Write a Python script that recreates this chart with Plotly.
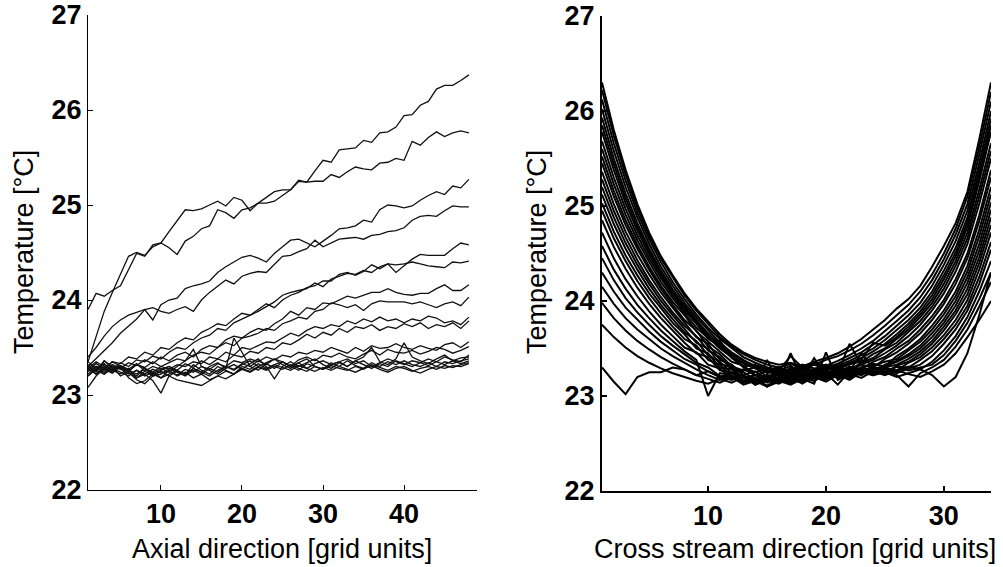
import plotly.graph_objects as go

# ---------------- data ----------------
axial_x = list(range(1, 49))
cross_x = list(range(1, 35))
y_ticks = [22, 23, 24, 25, 26, 27]
axial_ticks = [10, 20, 30, 40]
cross_ticks = [10, 20, 30]

axial_lines = [
    [23.35, 23.62, 23.88, 24.08, 24.28, 24.46, 24.5, 24.47, 24.56, 24.6, 24.72, 24.84, 24.95, 24.94, 24.96, 25.0, 25.04, 24.99, 25.08, 25.05, 24.94, 25.02, 25.02, 25.04, 25.1, 25.16, 25.26, 25.24, 25.36, 25.47, 25.45, 25.58, 25.59, 25.6, 25.68, 25.66, 25.76, 25.77, 25.82, 25.94, 25.95, 26.05, 26.09, 26.22, 26.26, 26.26, 26.31, 26.37],
    [23.9, 24.07, 24.04, 24.1, 24.15, 24.32, 24.49, 24.46, 24.58, 24.6, 24.55, 24.48, 24.62, 24.67, 24.75, 24.78, 24.95, 24.92, 24.86, 24.95, 24.97, 25.02, 25.08, 25.14, 25.16, 25.16, 25.25, 25.24, 25.25, 25.25, 25.32, 25.29, 25.35, 25.4, 25.38, 25.37, 25.44, 25.45, 25.49, 25.47, 25.67, 25.63, 25.71, 25.77, 25.72, 25.76, 25.78, 25.76],
    [23.4, 23.5, 23.62, 23.72, 23.79, 23.84, 23.87, 23.9, 23.79, 23.95, 24.0, 24.02, 24.12, 24.15, 24.17, 24.2, 24.29, 24.35, 24.4, 24.45, 24.47, 24.44, 24.4, 24.49, 24.56, 24.63, 24.64, 24.6, 24.56, 24.62, 24.68, 24.75, 24.76, 24.78, 24.84, 24.82, 24.95, 25.0, 24.99, 24.97, 24.99, 25.05, 25.1, 25.14, 25.11, 25.2, 25.18, 25.27],
    [23.3, 23.38, 23.47, 23.55, 23.65, 23.72, 23.8, 23.9, 23.92, 23.88, 23.86, 23.9, 23.93, 23.88, 24.0, 24.08, 24.15, 24.21, 24.17, 24.25, 24.28, 24.3, 24.29, 24.37, 24.46, 24.47, 24.51, 24.54, 24.63, 24.56, 24.6, 24.64, 24.65, 24.66, 24.64, 24.68, 24.69, 24.72, 24.73, 24.76, 24.84, 24.88, 24.89, 24.88, 24.94, 24.99, 24.98, 24.98],
    [23.25, 23.3, 23.28, 23.35, 23.33, 23.4, 23.38, 23.45, 23.42, 23.5, 23.48, 23.55, 23.6, 23.58, 23.66, 23.7, 23.75, 23.73, 23.8, 23.86, 23.84, 23.9, 23.96, 23.92, 24.0, 24.05, 24.08, 24.13, 24.15, 24.2, 24.2, 24.27, 24.29, 24.26, 24.3, 24.37, 24.33, 24.38, 24.29, 24.36, 24.43, 24.48, 24.47, 24.47, 24.47, 24.54, 24.6, 24.58],
    [23.28, 23.22, 23.3, 23.26, 23.34, 23.3, 23.37, 23.35, 23.41, 23.38, 23.45, 23.5, 23.48, 23.55, 23.6, 23.63, 23.7, 23.68, 23.76, 23.8, 23.84, 23.88, 23.93, 23.98, 24.05, 24.08, 24.1, 24.12, 24.18, 24.14, 24.22, 24.25, 24.28, 24.27, 24.31, 24.29, 24.35, 24.38, 24.37, 24.38, 24.4, 24.38, 24.36, 24.35, 24.34, 24.4, 24.39, 24.41],
    [23.32, 23.25, 23.36, 23.3, 23.28, 23.34, 23.31, 23.37, 23.33, 23.4, 23.36, 23.42, 23.45, 23.4, 23.48, 23.52, 23.5, 23.58, 23.62, 23.6, 23.66, 23.7, 23.68, 23.75, 23.8, 23.88, 23.84, 23.92, 23.9, 23.97, 23.96, 24.0, 24.04, 24.02, 24.05, 24.08, 24.08, 24.12, 24.08, 24.06, 24.05, 24.07, 24.07, 24.12, 24.16, 24.1, 24.1, 24.16],
    [23.2, 23.28, 23.24, 23.3, 23.27, 23.25, 23.32, 23.29, 23.35, 23.3, 23.34, 23.38, 23.36, 23.42, 23.45, 23.43, 23.5, 23.55, 23.52, 23.6, 23.62, 23.65, 23.7, 23.68, 23.75, 23.78, 23.82, 23.8, 23.88, 23.9, 23.97, 23.95, 23.92, 23.95, 23.89, 23.96, 23.99, 23.98, 23.98, 23.98, 23.96, 23.98, 23.95, 23.92, 23.96, 23.98, 23.94, 24.03],
    [23.3, 23.22, 23.27, 23.23, 23.3, 23.26, 23.2, 23.28, 23.24, 23.3, 23.27, 23.32, 23.3, 23.35, 23.33, 23.4, 23.38, 23.45, 23.42, 23.5, 23.48, 23.52, 23.56, 23.55, 23.6, 23.65, 23.62, 23.68, 23.72, 23.7, 23.74, 23.72, 23.78, 23.75, 23.8, 23.77, 23.82, 23.78, 23.8, 23.76, 23.8, 23.78, 23.83, 23.81, 23.76, 23.78, 23.74, 23.82],
    [23.35, 23.28, 23.33, 23.25, 23.31, 23.27, 23.33, 23.25, 23.3, 23.27, 23.3, 23.26, 23.33, 23.29, 23.36, 23.32, 23.38, 23.35, 23.42, 23.4, 23.46, 23.44, 23.5, 23.48, 23.55, 23.53, 23.58, 23.64, 23.6, 23.66, 23.63, 23.7, 23.66, 23.72, 23.7, 23.74, 23.68, 23.72, 23.7, 23.75, 23.72, 23.76, 23.7, 23.74, 23.72, 23.76, 23.7, 23.78],
    [23.25, 23.3, 23.22, 23.28, 23.24, 23.2, 23.26, 23.22, 23.27, 23.23, 23.25, 23.21, 23.27, 23.24, 23.3, 23.27, 23.33, 23.3, 23.36, 23.34, 23.38, 23.35, 23.4, 23.37, 23.42, 23.4, 23.45, 23.43, 23.47, 23.45, 23.5, 23.47, 23.44, 23.5, 23.46, 23.52, 23.49, 23.5, 23.54, 23.5, 23.48, 23.52, 23.49, 23.47, 23.53, 23.55, 23.5, 23.56],
    [23.2, 23.27, 23.32, 23.26, 23.3, 23.24, 23.18, 23.25, 23.2, 23.22, 23.28, 23.24, 23.2, 23.26, 23.22, 23.28, 23.24, 23.3, 23.27, 23.33, 23.3, 23.36, 23.32, 23.38, 23.35, 23.3, 23.37, 23.4, 23.36, 23.42, 23.4, 23.44, 23.4, 23.38, 23.43, 23.47, 23.42, 23.48, 23.45, 23.44, 23.47, 23.43, 23.46, 23.5, 23.48, 23.44, 23.47, 23.51],
    [23.28, 23.35, 23.3, 23.26, 23.22, 23.28, 23.18, 23.22, 23.15, 23.02, 23.2, 23.25, 23.22, 23.32, 23.26, 23.22, 23.3, 23.26, 23.22, 23.3, 23.27, 23.33, 23.28, 23.32, 23.35, 23.3, 23.34, 23.28, 23.33, 23.36, 23.32, 23.35, 23.38, 23.33, 23.36, 23.3, 23.34, 23.38, 23.35, 23.32, 23.36, 23.34, 23.38, 23.35, 23.4, 23.37, 23.35, 23.42],
    [23.22, 23.3, 23.26, 23.32, 23.28, 23.22, 23.26, 23.2, 23.24, 23.18, 23.22, 23.26, 23.21, 23.28, 23.24, 23.3, 23.34, 23.28, 23.6, 23.45, 23.3, 23.26, 23.33, 23.28, 23.35, 23.3, 23.26, 23.33, 23.3, 23.27, 23.34, 23.3, 23.36, 23.31, 23.28, 23.34, 23.3, 23.35, 23.32, 23.36, 23.32, 23.3, 23.34, 23.3, 23.35, 23.33, 23.36, 23.38],
    [23.3, 23.24, 23.36, 23.28, 23.3, 23.25, 23.32, 23.28, 23.22, 23.28, 23.24, 23.3, 23.36, 23.48, 23.3, 23.26, 23.22, 23.28, 23.32, 23.27, 23.33, 23.38, 23.3, 23.17, 23.3, 23.35, 23.3, 23.34, 23.38, 23.32, 23.28, 23.34, 23.3, 23.36, 23.32, 23.28, 23.33, 23.3, 23.36, 23.33, 23.3, 23.34, 23.31, 23.35, 23.32, 23.36, 23.33, 23.36],
    [23.08, 23.2, 23.28, 23.35, 23.3, 23.18, 23.12, 23.15, 23.22, 23.18, 23.26, 23.2, 23.24, 23.18, 23.22, 23.16, 23.2, 23.25, 23.22, 23.27, 23.24, 23.29, 23.26, 23.3, 23.27, 23.32, 23.28, 23.25, 23.3, 23.27, 23.31, 23.28, 23.26, 23.3, 23.27, 23.32, 23.29, 23.26, 23.3, 23.28, 23.25, 23.28, 23.3, 23.27, 23.31, 23.29, 23.32, 23.34],
    [23.3, 23.26, 23.22, 23.3, 23.2, 23.24, 23.16, 23.12, 23.2, 23.25, 23.2, 23.16, 23.14, 23.12, 23.1, 23.15, 23.2, 23.17, 23.22, 23.28, 23.25, 23.3, 23.27, 23.32, 23.29, 23.26, 23.31, 23.28, 23.25, 23.29, 23.26, 23.3, 23.27, 23.24, 23.28, 23.31, 23.27, 23.24, 23.28, 23.3, 23.26, 23.23, 23.27, 23.3, 23.28, 23.31, 23.3, 23.33],
    [23.26, 23.33, 23.28, 23.24, 23.3, 23.26, 23.22, 23.28, 23.2, 23.26, 23.3, 23.25, 23.22, 23.28, 23.24, 23.2, 23.26, 23.3, 23.26, 23.32, 23.36, 23.3, 23.34, 23.38, 23.32, 23.28, 23.34, 23.38, 23.3, 23.27, 23.32, 23.35, 23.3, 23.36, 23.4, 23.5, 23.35, 23.32, 23.38, 23.55, 23.4, 23.36, 23.33, 23.38, 23.42, 23.36, 23.39, 23.4],
]

cross_lines = [
    [26.30, 25.80, 25.38, 25.02, 24.72, 24.47, 24.27, 24.08, 23.92, 23.78, 23.65, 23.54, 23.46, 23.40, 23.36, 23.33, 23.35, 23.31, 23.36, 23.40, 23.45, 23.52, 23.60, 23.70, 23.80, 23.92, 24.02, 24.16, 24.36, 24.58, 24.82, 25.15, 25.70, 26.30],
    [26.22, 25.74, 25.33, 24.98, 24.69, 24.45, 24.25, 24.06, 23.9, 23.76, 23.62, 23.52, 23.44, 23.38, 23.33, 23.30, 23.34, 23.28, 23.33, 23.38, 23.42, 23.48, 23.55, 23.64, 23.74, 23.85, 23.96, 24.1, 24.28, 24.5, 24.76, 25.1, 25.62, 26.2],
    [26.12, 25.66, 25.27, 24.93, 24.65, 24.41, 24.2, 24.02, 23.86, 23.72, 23.6, 23.5, 23.41, 23.35, 23.3, 23.27, 23.42, 23.3, 23.35, 23.32, 23.37, 23.43, 23.5, 23.58, 23.68, 23.79, 23.9, 24.04, 24.22, 24.44, 24.7, 25.02, 25.54, 26.1],
    [26.02, 25.58, 25.2, 24.88, 24.6, 24.36, 24.16, 23.98, 23.83, 23.69, 23.56, 23.46, 23.38, 23.31, 23.28, 23.3, 23.26, 23.31, 23.34, 23.3, 23.34, 23.4, 23.46, 23.54, 23.63, 23.74, 23.85, 23.98, 24.16, 24.38, 24.63, 24.95, 25.45, 26.0],
    [25.93, 25.5, 25.13, 24.82, 24.55, 24.32, 24.12, 23.95, 23.8, 23.66, 23.54, 23.44, 23.37, 23.32, 23.3, 23.25, 23.28, 23.33, 23.29, 23.31, 23.32, 23.37, 23.43, 23.5, 23.59, 23.69, 23.8, 23.93, 24.1, 24.32, 24.56, 24.88, 25.38, 25.92],
    [25.85, 25.44, 25.08, 24.78, 24.52, 24.3, 24.1, 23.93, 23.78, 23.64, 23.52, 23.42, 23.35, 23.3, 23.27, 23.29, 23.24, 23.3, 23.33, 23.28, 23.3, 23.35, 23.4, 23.47, 23.55, 23.65, 23.76, 23.89, 24.06, 24.27, 24.51, 24.83, 25.32, 25.85],
    [25.78, 25.38, 25.03, 24.74, 24.49, 24.27, 24.08, 23.91, 23.76, 23.62, 23.5, 23.41, 23.34, 23.29, 23.26, 23.22, 23.28, 23.31, 23.27, 23.32, 23.29, 23.33, 23.38, 23.56, 23.53, 23.62, 23.73, 23.86, 24.02, 24.23, 24.47, 24.78, 25.26, 25.78],
    [25.68, 25.3, 24.97, 24.69, 24.45, 24.24, 24.06, 23.9, 23.77, 23.6, 23.53, 23.4, 23.31, 23.33, 23.24, 23.27, 23.21, 23.3, 23.26, 23.33, 23.28, 23.34, 23.36, 23.44, 23.5, 23.6, 23.7, 23.83, 23.98, 24.18, 24.42, 24.72, 25.17, 25.66],
    [25.6, 25.23, 24.91, 24.64, 24.41, 24.2, 24.03, 23.87, 23.72, 23.61, 23.58, 23.42, 23.3, 23.25, 23.29, 23.22, 23.3, 23.25, 23.2, 23.29, 23.31, 23.27, 23.35, 23.4, 23.49, 23.56, 23.67, 23.79, 23.94, 24.13, 24.37, 24.66, 25.1, 25.58],
    [25.52, 25.16, 24.85, 24.59, 24.36, 24.16, 23.99, 23.85, 23.68, 23.57, 23.46, 23.36, 23.32, 23.22, 23.26, 23.3, 23.23, 23.19, 23.28, 23.24, 23.12, 23.26, 23.33, 23.38, 23.45, 23.53, 23.63, 23.75, 23.9, 24.08, 24.31, 24.6, 25.02, 25.5],
    [25.45, 25.1, 24.8, 24.55, 24.33, 24.13, 23.96, 23.8, 23.69, 23.52, 23.44, 23.31, 23.27, 23.3, 23.2, 23.26, 23.32, 23.22, 23.27, 23.2, 23.25, 23.31, 23.28, 23.36, 23.41, 23.5, 23.58, 23.7, 23.84, 24.01, 24.23, 24.5, 24.9, 25.38],
    [25.36, 25.02, 24.73, 24.49, 24.28, 24.09, 23.93, 23.78, 23.62, 23.55, 23.38, 23.33, 23.22, 23.26, 23.18, 23.24, 23.2, 23.27, 23.23, 23.3, 23.24, 23.55, 23.33, 23.3, 23.39, 23.46, 23.55, 23.66, 23.8, 23.97, 24.18, 24.45, 24.84, 25.3],
    [25.28, 24.95, 24.67, 24.43, 24.22, 24.04, 23.88, 23.74, 23.63, 23.48, 23.41, 23.28, 23.25, 23.17, 23.22, 23.19, 23.25, 23.2, 23.4, 23.21, 23.27, 23.22, 23.3, 23.34, 23.31, 23.42, 23.5, 23.6, 23.74, 23.9, 24.1, 24.37, 24.75, 25.2],
    [25.2, 24.88, 24.61, 24.38, 24.18, 24.0, 23.85, 23.71, 23.56, 23.5, 23.34, 23.3, 23.19, 23.22, 23.14, 23.2, 23.16, 23.24, 23.19, 23.26, 23.22, 23.29, 23.25, 23.32, 23.36, 23.39, 23.48, 23.57, 23.7, 23.86, 24.05, 24.31, 24.68, 25.12],
    [25.12, 24.81, 24.55, 24.33, 24.13, 23.96, 23.81, 23.67, 23.58, 23.43, 23.36, 23.24, 23.2, 23.12, 23.18, 23.15, 23.45, 23.17, 23.23, 23.18, 23.25, 23.2, 23.27, 23.24, 23.33, 23.37, 23.44, 23.53, 23.66, 23.81, 24.0, 24.25, 24.6, 25.04],
    [25.03, 24.73, 24.48, 24.27, 24.08, 23.92, 23.77, 23.65, 23.5, 23.45, 23.3, 23.28, 23.16, 23.19, 23.1, 23.17, 23.13, 23.21, 23.16, 23.24, 23.19, 23.26, 23.45, 23.29, 23.31, 23.36, 23.42, 23.5, 23.62, 23.77, 23.95, 24.19, 24.53, 24.96],
    [24.95, 24.66, 24.42, 24.21, 24.03, 23.87, 23.73, 23.6, 23.53, 23.38, 23.33, 23.2, 23.22, 23.12, 23.16, 23.13, 23.19, 23.14, 23.2, 23.15, 23.22, 23.17, 23.25, 23.22, 23.3, 23.33, 23.39, 23.47, 23.58, 23.73, 23.9, 24.13, 24.46, 24.88],
    [24.85, 24.57, 24.34, 24.14, 23.97, 23.82, 23.69, 23.56, 23.45, 23.41, 23.27, 23.25, 23.15, 23.18, 23.1, 23.16, 23.12, 23.18, 23.13, 23.46, 23.17, 23.23, 23.19, 23.26, 23.23, 23.32, 23.36, 23.44, 23.55, 23.69, 23.86, 24.07, 24.4, 24.8],
    [24.72, 24.45, 24.23, 24.05, 23.89, 23.75, 23.63, 23.51, 23.46, 23.33, 23.29, 23.18, 23.21, 23.12, 23.38, 23.14, 23.2, 23.15, 23.22, 23.18, 23.24, 23.2, 23.27, 23.23, 23.29, 23.27, 23.35, 23.41, 23.51, 23.64, 23.8, 24.01, 24.33, 24.72],
    [24.58, 24.33, 24.13, 23.96, 23.82, 23.69, 23.58, 23.47, 23.38, 23.0, 23.24, 23.22, 23.14, 23.17, 23.11, 23.18, 23.14, 23.2, 23.16, 23.23, 23.19, 23.25, 23.22, 23.28, 23.25, 23.31, 23.3, 23.38, 23.47, 23.6, 23.75, 23.95, 24.25, 24.62],
    [24.45, 24.22, 24.03, 23.88, 23.75, 23.63, 23.53, 23.44, 23.35, 23.3, 23.21, 23.2, 23.12, 23.16, 23.1, 23.15, 23.19, 23.13, 23.21, 23.17, 23.23, 23.18, 23.26, 23.22, 23.28, 23.24, 23.29, 23.33, 23.42, 23.55, 23.7, 23.9, 24.18, 24.54],
    [24.3, 24.1, 23.93, 23.8, 23.68, 23.57, 23.48, 23.39, 23.33, 23.26, 23.2, 23.17, 23.22, 23.14, 23.19, 23.16, 23.22, 23.17, 23.24, 23.2, 23.26, 23.21, 23.28, 23.24, 23.3, 23.26, 23.31, 23.28, 23.36, 23.48, 23.63, 23.83, 24.1, 24.42],
    [24.15, 23.97, 23.82, 23.7, 23.6, 23.5, 23.42, 23.35, 23.28, 23.22, 23.17, 23.21, 23.14, 23.19, 23.15, 23.2, 23.16, 23.23, 23.19, 23.25, 23.21, 23.27, 23.23, 23.29, 23.25, 23.31, 23.27, 23.3, 23.33, 23.43, 23.58, 23.77, 24.02, 24.3],
    [23.98, 23.82, 23.69, 23.58, 23.49, 23.41, 23.34, 23.28, 23.22, 23.18, 23.14, 23.2, 23.16, 23.22, 23.17, 23.23, 23.18, 23.25, 23.21, 23.27, 23.23, 23.29, 23.24, 23.3, 23.26, 23.22, 23.1, 23.24, 23.3, 23.38, 23.52, 23.7, 23.94, 24.2],
    [23.75, 23.62, 23.51, 23.42, 23.35, 23.29, 23.24, 23.2, 23.16, 23.13, 23.18, 23.14, 23.2, 23.16, 23.22, 23.18, 23.24, 23.2, 23.26, 23.22, 23.28, 23.24, 23.3, 23.26, 23.22, 23.27, 23.23, 23.2, 23.26, 23.33, 23.45, 23.62, 23.8, 24.0],
    [23.3, 23.15, 23.02, 23.2, 23.25, 23.25, 23.3, 23.28, 23.22, 23.26, 23.2, 23.24, 23.28, 23.22, 23.26, 23.3, 23.24, 23.28, 23.25, 23.3, 23.26, 23.3, 23.27, 23.22, 23.25, 23.2, 23.24, 23.28, 23.22, 23.1, 23.2, 23.45, 23.85, 24.3],
]

x_title_left = "Axial direction [grid units]"
x_title_right = "Cross stream direction [grid units]"
y_title = "Temperature [°C]"

# ---------------- figure ----------------
W, H = 1003, 567
FONT = "Liberation Sans, Arial, sans-serif"

fig = go.Figure()
for ys in axial_lines:
    fig.add_trace(go.Scatter(x=axial_x, y=ys, mode="lines", xaxis="x", yaxis="y",
                             line=dict(color="#111111", width=1.3), hoverinfo="skip"))
for ys in cross_lines:
    fig.add_trace(go.Scatter(x=cross_x, y=ys, mode="lines", xaxis="x2", yaxis="y2",
                             line=dict(color="#000000", width=2), hoverinfo="skip"))

def px_x(p):
    return p / W

def px_y(p):
    return 1 - p / H

tickfont = dict(family=FONT, size=27, color="black", weight="bold")
common_axis = dict(showgrid=False, zeroline=False, showline=True, linecolor="black",
                   ticks="inside", ticklen=5, tickcolor="black", tickfont=tickfont,
                   mirror=False, automargin=False)

fig.update_layout(
    width=W, height=H, autosize=False,
    margin=dict(l=0, r=0, t=0, b=0, pad=0, autoexpand=False),
    paper_bgcolor="white", plot_bgcolor="white",
    showlegend=False,
    xaxis=dict(domain=[px_x(88), px_x(477)], range=[1, 49], tickvals=axial_ticks,
               anchor="y", linewidth=1, tickwidth=1, **common_axis),
    yaxis=dict(domain=[px_y(490), px_y(15)], range=[22, 27], tickvals=y_ticks,
               anchor="x", linewidth=1, tickwidth=1, **common_axis),
    xaxis2=dict(domain=[px_x(602), px_x(991)], range=[1, 34], tickvals=cross_ticks,
                anchor="y2", linewidth=2, tickwidth=1.5, **common_axis),
    yaxis2=dict(domain=[px_y(491), px_y(16)], range=[22, 27], tickvals=y_ticks,
                anchor="x2", linewidth=2, tickwidth=1.5, **common_axis),
)

title_font = dict(family=FONT, size=27, color="black")
fig.add_annotation(text=x_title_left, x=px_x(282), y=px_y(549), xref="paper", yref="paper",
                   showarrow=False, font=title_font, xanchor="center", yanchor="middle")
fig.add_annotation(text=x_title_right, x=px_x(795), y=px_y(549), xref="paper", yref="paper",
                   showarrow=False, font=title_font, xanchor="center", yanchor="middle")
fig.add_annotation(text=y_title, x=px_x(24), y=px_y(252), xref="paper", yref="paper",
                   showarrow=False, font=title_font, textangle=-90,
                   xanchor="center", yanchor="middle")
fig.add_annotation(text=y_title, x=px_x(537), y=px_y(252), xref="paper", yref="paper",
                   showarrow=False, font=title_font, textangle=-90,
                   xanchor="center", yanchor="middle")

fig.write_html("out.html", config={"displayModeBar": False},
               post_script="document.body.style.margin='0';document.body.style.overflow='hidden';")
